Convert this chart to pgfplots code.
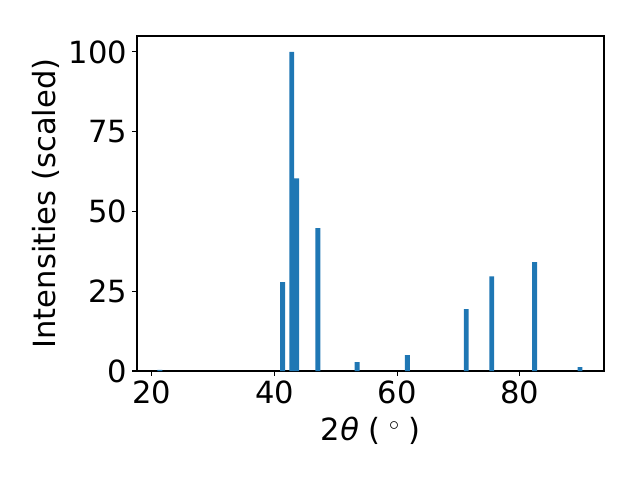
\documentclass[border=0pt]{standalone}
\usepackage{fontspec}
\setmainfont{DejaVu Sans}
\usepackage{pgfplots}
\pgfplotsset{compat=1.18}
\definecolor{mplblue}{HTML}{1F77B4}

\begin{document}
\begin{tikzpicture}
\useasboundingbox (-98.6pt,-78.5pt) rectangle (362.1pt,267.1pt);
\begin{axis}[
    scale only axis,
    width=336.2pt, height=241.2pt,
    at={(0,0)}, anchor=south west,
    xmin=17.6, xmax=93.7,
    ymin=0, ymax=105,
    xtick={20,40,60,80},
    ytick={0,25,50,75,100},
    tick align=outside,
    xtick pos=bottom, ytick pos=left,
    major tick length=3.5pt,
    every tick/.style={black, line width=0.8pt},
    axis line style={line width=0.8pt},
    tick label style={font=\fontsize{22}{26}\selectfont},
    label style={font=\fontsize{22}{26}\selectfont},
    /pgf/number format/assume math mode=true,
    xlabel={2\textit{θ} (\;$^\circ$\;)},
    ylabel={Intensities (scaled)},
    xlabel style={at={(axis description cs:0.5,0)}, anchor=base, yshift=-50.2pt},
    ylabel style={at={(axis description cs:0,0.5)}, anchor=base, yshift=59pt},
]
\addplot[ybar, bar width=0.8, bar shift=0pt, fill=mplblue, draw=none] coordinates {
    (21.34, 0.4)
    (41.34, 27.9)
    (42.82, 100)
    (43.64, 60.4)
    (47.08, 44.8)
    (53.48, 2.8)
    (61.66, 5.0)
    (71.25, 19.4)
    (75.40, 29.7)
    (82.39, 34.1)
    (89.79, 1.25)
};
\end{axis}
\end{tikzpicture}
\end{document}
